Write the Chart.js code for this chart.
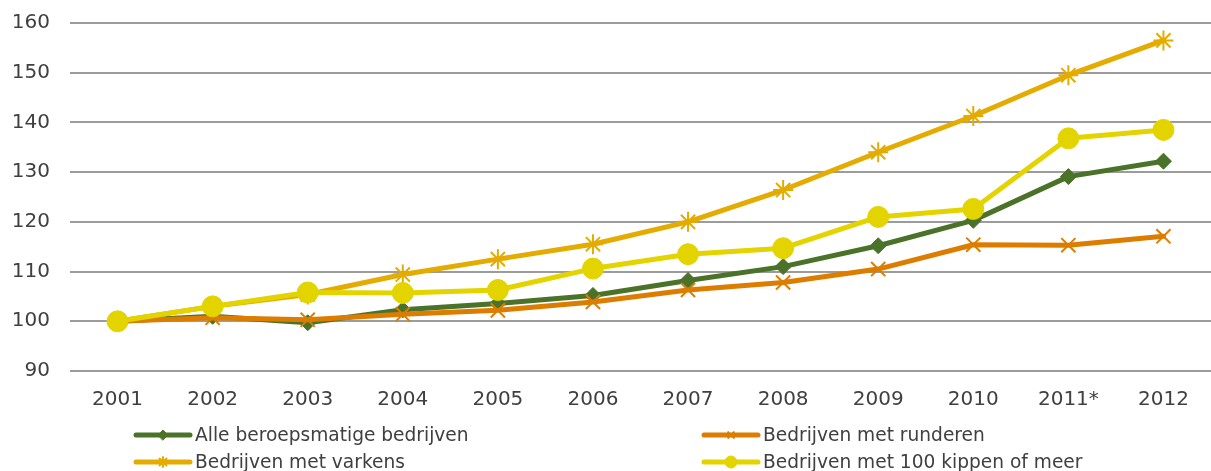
<!DOCTYPE html>
<html>
<head>
<meta charset="utf-8">
<script src="https://cdn.jsdelivr.net/npm/chart.js@4.4.1/dist/chart.umd.min.js"></script>
<style>
  html, body { margin: 0; padding: 0; background: #fff; }
  #wrap { width: 1211px; height: 471px; position: relative; }
</style>
</head>
<body>
<div id="wrap"><canvas id="groeiChart"></canvas></div>
<script>
    var jaren = ['2001', '2002', '2003', '2004', '2005', '2006', '2007', '2008', '2009', '2010', '2011*', '2012'];

    var alleBedrijven = [100, 101, 99.7, 102.3, 103.6, 105.2, 108.2, 111, 115.2, 120.3, 129.1, 132.2];
    var runderen      = [100, 100.7, 100.3, 101.4, 102.2, 103.9, 106.3, 107.8, 110.5, 115.4, 115.3, 117.1];
    var varkens       = [100, 103, 105.4, 109.4, 112.5, 115.5, 120, 126.4, 134, 141.3, 149.5, 156.5];
    var kippen        = [100, 103, 105.8, 105.7, 106.3, 110.6, 113.5, 114.7, 121, 122.6, 136.8, 138.5];

    var yMin = 90, yMax = 160, yStap = 10;

    var tekstKleur = '#404040';
    var lettertype = '"DejaVu Sans"';

    // legend in two columns underneath the plot
    var legendPlugin = {
        id: 'kolomLegenda',
        afterDraw: function (chart) {
            var ctx = chart.ctx;
            var kolomX = [136, 704];
            var rijY = [435, 462];
            chart.data.datasets.forEach(function (ds, i) {
                var x = kolomX[i % 2];
                var y = rijY[Math.floor(i / 2)];
                ctx.save();
                ctx.strokeStyle = ds.borderColor;
                ctx.lineWidth = 5;
                ctx.lineCap = 'round';
                ctx.beginPath();
                ctx.moveTo(x, y);
                ctx.lineTo(x + 54, y);
                ctx.stroke();

                ctx.fillStyle = ds.pointBackgroundColor;
                ctx.strokeStyle = ds.pointBorderColor;
                ctx.lineWidth = ds.pointBorderWidth;
                Chart.helpers.drawPoint(ctx, {
                    pointStyle: ds.pointStyle,
                    radius: ds.legendRadius,
                    borderWidth: ds.pointBorderWidth
                }, x + 27, y);

                ctx.fillStyle = tekstKleur;
                ctx.font = '18.6px ' + lettertype;
                ctx.textBaseline = 'middle';
                ctx.textAlign = 'left';
                ctx.fillText(ds.label, x + 59, y + 1);
                ctx.restore();
            });
        }
    };

    var ctx = document.getElementById('groeiChart').getContext('2d');
    var groeiChart = new Chart(ctx, {
        type: 'line',
        data: {
            labels: jaren,
            datasets: [{
                label: 'Alle beroepsmatige bedrijven',
                data: alleBedrijven,
                borderColor: '#4a7228',
                pointBackgroundColor: '#4a7228',
                pointBorderColor: '#4a7228',
                pointStyle: 'rectRot',
                pointRadius: 8,
                pointBorderWidth: 1,
                legendRadius: 5,
                order: 3
            }, {
                label: 'Bedrijven met runderen',
                data: runderen,
                borderColor: '#dc7d00',
                pointBackgroundColor: '#dc7d00',
                pointBorderColor: '#dc7d00',
                pointStyle: 'crossRot',
                pointRadius: 10,
                pointBorderWidth: 2,
                legendRadius: 4,
                order: 2
            }, {
                label: 'Bedrijven met varkens',
                data: varkens,
                borderColor: '#e4ab00',
                pointBackgroundColor: '#e4ab00',
                pointBorderColor: '#e4ab00',
                pointStyle: 'star',
                pointRadius: 10,
                pointBorderWidth: 2,
                legendRadius: 5,
                order: 1
            }, {
                label: 'Bedrijven met 100 kippen of meer',
                data: kippen,
                borderColor: '#e3d400',
                pointBackgroundColor: '#e3d400',
                pointBorderColor: '#e3d400',
                pointStyle: 'circle',
                pointRadius: 10.5,
                pointBorderWidth: 1,
                legendRadius: 6,
                order: 0
            }]
        },
        options: {
            responsive: true,
            maintainAspectRatio: false,
            animation: false,
            elements: {
                line: { borderWidth: 5, tension: 0, borderCapStyle: 'round', borderJoinStyle: 'round' }
            },
            layout: { autoPadding: false, padding: { top: 23, right: 0, bottom: 42, left: 0 } },
            plugins: {
                legend: { display: false },
                tooltip: { enabled: false }
            },
            scales: {
                x: {
                    offset: true,
                    grid: { display: false, drawTicks: false },
                    border: { display: false },
                    ticks: {
                        color: tekstKleur,
                        padding: 17,
                        maxRotation: 0,
                        font: { family: lettertype, size: 20 }
                    }
                },
                y: {
                    min: yMin,
                    max: yMax,
                    afterFit: function (scale) {
                        scale.width = 70;
                        scale.paddingTop = 0;
                        scale.paddingBottom = 0;
                    },
                    grid: { color: '#9c9c9c', lineWidth: 2, drawTicks: false },
                    border: { display: false },
                    ticks: {
                        stepSize: yStap,
                        color: tekstKleur,
                        padding: 20,
                        font: { family: lettertype, size: 20 }
                    }
                }
            }
        },
        plugins: [legendPlugin]
    });
</script>
</body>
</html>
